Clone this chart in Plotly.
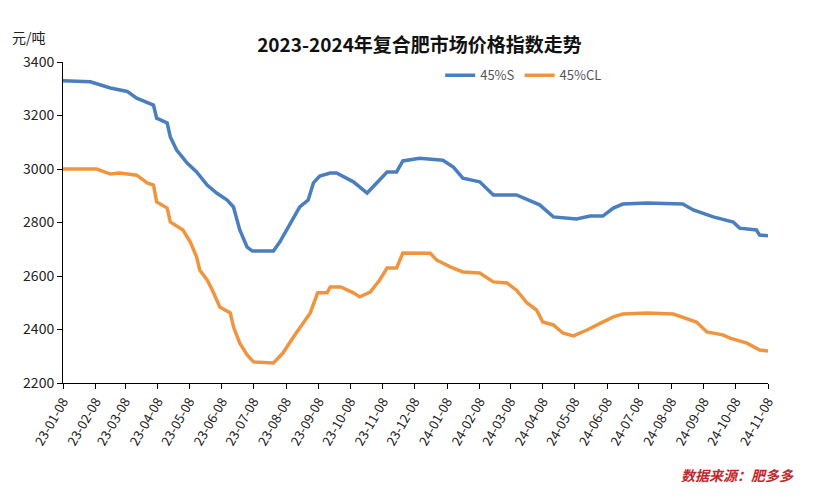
import pandas as pd
import plotly.graph_objects as go

start = pd.Timestamp("2023-01-08")

# days since 2023-01-08
s_days = [0, 26, 45, 61, 70, 86, 89, 99, 102, 108, 118, 127, 137, 146, 156, 162, 168, 175, 180, 200,
          206, 216, 225, 233, 238, 244, 254, 260, 276, 289, 301, 308, 317, 323, 339, 361, 371, 380, 396, 409,
          431, 437, 453, 466, 488, 501, 513, 523, 532, 555, 589, 599, 618, 637, 643, 659, 662, 670]
s_vals = [3330, 3326, 3303, 3290, 3265, 3239, 3190, 3172, 3120, 3071, 3022, 2989, 2940, 2910, 2884, 2858, 2772, 2708, 2693, 2693,
          2727, 2798, 2858, 2884, 2948, 2974, 2985, 2985, 2952, 2910, 2959, 2989, 2989, 3030, 3040, 3033, 3007, 2966, 2952, 2903,
          2903, 2892, 2866, 2821, 2813, 2824, 2824, 2854, 2869, 2873, 2869, 2847, 2821, 2802, 2779, 2772, 2753, 2750]

cl_days = [0, 32, 45, 54, 70, 80, 86, 89, 99, 102, 114, 121, 127, 130, 137, 142, 149, 159, 162, 168,
           175, 181, 200, 209, 219, 228, 235, 242, 251, 254, 264, 276, 282, 292, 301, 308, 317, 323, 349, 355,
           368, 380, 396, 409, 422, 431, 441, 450, 456, 466, 475, 485, 498, 511, 523, 532, 555, 580, 589, 602,
           612, 627, 634, 650, 662, 670]
cl_vals = [3000, 3000, 2981, 2985, 2977, 2948, 2940, 2877, 2854, 2802, 2772, 2727, 2671, 2622, 2585, 2547, 2484, 2462, 2410, 2349,
           2305, 2279, 2275, 2312, 2372, 2424, 2462, 2537, 2537, 2559, 2559, 2537, 2522, 2540, 2585, 2630, 2630, 2686, 2685, 2660,
           2634, 2615, 2611, 2578, 2574, 2547, 2499, 2473, 2428, 2417, 2387, 2376, 2398, 2424, 2447, 2458, 2462, 2458, 2447, 2428,
           2391, 2380, 2368, 2349, 2323, 2320]

tick_dates = pd.date_range("2023-01-01", "2024-11-01", freq="MS") + pd.Timedelta(days=7)
tick_text = [d.strftime("%y-%m-%d") for d in tick_dates]

s_x = [start + pd.Timedelta(days=d) for d in s_days]
cl_x = [start + pd.Timedelta(days=d) for d in cl_days]

fig = go.Figure()
fig.add_trace(go.Scatter(x=s_x, y=s_vals, mode='lines', name='45%S',
                         line=dict(color='#4a7ebf', width=3.5)))
fig.add_trace(go.Scatter(x=cl_x, y=cl_vals, mode='lines', name='45%CL',
                         line=dict(color='#f0953f', width=3.5)))

fig.update_layout(
    width=823, height=500,
    paper_bgcolor='white', plot_bgcolor='white',
    margin=dict(l=55, r=63, t=54, b=125),
    font=dict(family="Noto Sans CJK SC, sans-serif", color='#222'),
    title=dict(text="<b>2023-2024年复合肥市场价格指数走势</b>", x=0.5, xanchor='center',
               y=0.925, yanchor='middle', font=dict(size=19, color='#111')),
    legend=dict(orientation='h', x=0.535, y=1.005, xanchor='left', yanchor='top',
                font=dict(size=13, color='#555'), bgcolor='rgba(0,0,0,0)'),
    xaxis=dict(range=[tick_dates[0], tick_dates[-1]], tickvals=tick_dates, ticktext=tick_text,
               tickangle=-60, showgrid=False, showline=True, linecolor='black', ticks='outside',
               ticklen=5, tickcolor='black', tickfont=dict(size=13, color='#222')),
    yaxis=dict(range=[2200, 3400], dtick=200, showgrid=False, showline=True, linecolor='black',
               ticks='outside', ticklen=5, tickcolor='black', tickfont=dict(size=14, color='#222')),
)
fig.add_annotation(text="元/吨", xref='paper', yref='paper', x=-0.075, y=1.04, xanchor='left',
                   yanchor='bottom', showarrow=False, font=dict(size=14, color='#222'))
fig.add_annotation(text="<i><b>数据来源：肥多多</b></i>", xref='paper', yref='paper', x=1.04, y=-0.25,
                   xanchor='right', yanchor='top', showarrow=False, font=dict(size=14, color='#c0282d'))

fig.write_html("out.html")
